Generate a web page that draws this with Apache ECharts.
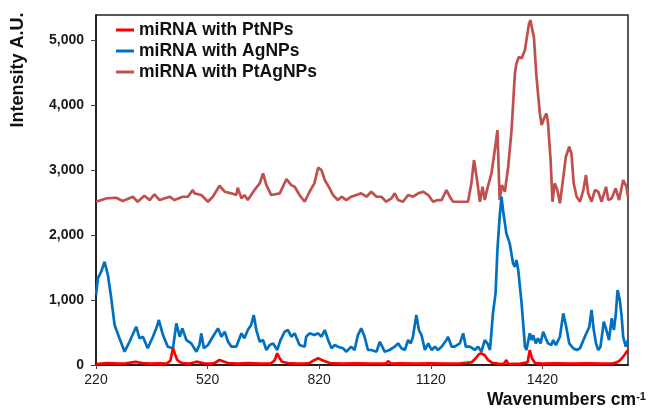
<!DOCTYPE html>
<html>
<head>
<meta charset="utf-8">
<script src="https://cdn.jsdelivr.net/npm/echarts@6/dist/echarts.min.js"></script>
<style>
  html, body { margin: 0; padding: 0; background: #fff; }
  #main { width: 655px; height: 411px; }
</style>
</head>
<body>
<div id="main"></div>
<script>
// wavenumber ticks shown on the x axis
const xTicks = [220, 520, 820, 1120, 1420];
const yTicks = [0, 1000, 2000, 3000, 4000, 5000];

// miRNA with PtNPs (red)
const ptWave = [220,250,280,300,326,345,365,390,410,415,420,427,433,438,445,452,470,490,510,530,540,552,565,575,600,630,660,690,700,707,713,720,735,760,785,794,805,817,830,848,880,920,960,1000,1005,1009,1013,1040,1080,1120,1160,1200,1229,1240,1250,1256,1265,1275,1285,1300,1316,1323,1328,1360,1380,1386,1392,1400,1420,1460,1500,1540,1580,1610,1620,1630,1640,1650];
const ptVal = [15,30,20,25,48,30,20,25,20,25,70,257,160,80,45,30,20,51,25,20,35,77,50,30,20,30,20,25,70,180,110,50,30,20,25,30,70,105,70,30,20,25,20,20,60,80,20,25,20,25,20,25,40,100,170,180,150,70,35,20,15,77,15,20,40,231,100,30,20,25,20,25,20,25,40,80,150,231];

// miRNA with AgNPs (blue)
const agWave = [220,225,234,243,252,261,270,283,297,310,328,337,346,359,373,382,389,400,413,427,436,445,452,463,476,490,498,503,510,521,534,548,557,566,575,584,597,611,619,628,637,644,651,660,669,678,687,696,707,716,727,736,745,754,767,781,785,794,807,817,826,835,844,853,862,870,884,893,906,915,924,933,942,951,960,974,983,996,1009,1023,1032,1041,1050,1059,1066,1072,1081,1088,1095,1104,1113,1122,1131,1139,1149,1162,1166,1176,1184,1198,1207,1214,1225,1238,1247,1256,1265,1272,1279,1287,1294,1299,1305,1310,1314,1323,1332,1341,1346,1350,1355,1364,1373,1377,1386,1391,1395,1402,1408,1415,1422,1429,1435,1444,1449,1456,1467,1476,1483,1492,1503,1512,1521,1534,1546,1552,1558,1564,1570,1576,1585,1592,1599,1606,1612,1617,1622,1628,1633,1637,1644,1650];
const agVal = [1077,1333,1435,1589,1384,1026,615,411,205,358,589,411,435,257,435,564,692,461,282,257,641,435,564,384,333,205,307,487,257,307,435,564,435,512,358,282,282,487,411,538,615,769,538,358,384,231,307,333,231,384,512,538,435,487,307,282,435,487,461,487,435,538,384,257,307,282,257,205,282,231,461,564,435,231,231,205,358,205,231,282,333,257,231,384,333,435,769,538,461,231,333,231,282,231,282,384,435,282,282,333,487,282,282,231,282,205,384,333,231,795,1103,1769,2281,2589,2384,2026,1872,1564,1512,1615,1461,949,282,231,487,384,461,333,411,333,512,411,333,307,384,307,435,795,615,333,257,231,257,435,589,846,538,333,231,282,666,538,384,718,538,769,1153,1000,743,435,282,384];

// miRNA with PtAgNPs (brownish red)
const ptAgWave = [220,247,274,292,319,332,350,364,377,391,418,431,453,467,480,485,503,521,534,552,566,584,597,601,611,619,628,646,660,669,678,691,714,732,745,754,767,781,794,807,817,826,835,848,857,870,880,893,906,920,933,947,960,974,987,1000,1014,1023,1032,1045,1059,1072,1086,1099,1113,1126,1139,1149,1162,1171,1180,1220,1229,1236,1243,1252,1259,1265,1272,1283,1292,1299,1305,1311,1319,1328,1337,1346,1350,1357,1364,1373,1377,1384,1388,1393,1397,1404,1413,1418,1426,1431,1435,1442,1447,1453,1460,1467,1474,1483,1492,1498,1504,1512,1521,1530,1537,1543,1552,1561,1570,1579,1591,1597,1606,1617,1626,1637,1646,1650];
const ptAgVal = [2512,2563,2573,2522,2589,2512,2604,2538,2625,2538,2589,2538,2589,2589,2692,2641,2615,2512,2589,2758,2666,2641,2615,2727,2563,2615,2538,2692,2795,2948,2768,2615,2641,2861,2768,2742,2615,2512,2666,2795,3035,3000,2845,2718,2615,2538,2589,2538,2589,2615,2641,2589,2666,2589,2589,2512,2563,2641,2538,2512,2615,2589,2641,2666,2615,2512,2538,2538,2692,2589,2512,2512,2795,3153,2896,2512,2742,2538,2718,2948,3307,3614,2538,2768,2666,3050,3614,4486,4640,4742,4717,4845,4999,5255,5306,5152,5050,4434,3871,3691,3819,3871,3717,3153,2512,2795,2692,2487,2795,3204,3358,3256,2795,2589,2512,2692,2922,2641,2512,2692,2666,2512,2742,2538,2563,2718,2538,2845,2742,2589];

const zip = (xs, ys) => xs.map((x, i) => [x, ys[i]]);

const FONT = 'Liberation Sans, Arial, sans-serif';
const chart = echarts.init(document.getElementById('main'));

const option = {
  animation: false,
  backgroundColor: '#fff',
  textStyle: { fontFamily: FONT },
  grid: {
    left: 96, right: 27, top: 15, bottom: 46,
    show: true, borderColor: '#222', borderWidth: 1.5
  },
  legend: {
    orient: 'vertical',
    left: 116, top: 21,
    padding: 0,
    itemGap: 3,
    itemWidth: 18, itemHeight: 3,
    icon: 'rect',
    data: ['miRNA with PtNPs', 'miRNA with AgNPs', 'miRNA with PtAgNPs'],
    textStyle: { fontFamily: FONT, fontSize: 17.5, fontWeight: 'bold', color: '#111', lineHeight: 18 }
  },
  xAxis: {
    type: 'value',
    min: 220, max: 1650,
    axisLine: { show: true, lineStyle: { color: '#111', width: 1.5 } },
    axisTick: { show: true, length: 4, customValues: xTicks, lineStyle: { color: '#444' } },
    axisLabel: {
      customValues: xTicks,
      formatter: v => String(v),
      fontFamily: FONT, fontSize: 14, color: '#1a1a1a', margin: 8
    },
    splitLine: { show: false }
  },
  yAxis: {
    type: 'value',
    min: 0, max: 5385,
    axisLine: { show: true, lineStyle: { color: '#111', width: 1.5 } },
    axisTick: { show: true, length: 5, customValues: yTicks, lineStyle: { color: '#444' } },
    axisLabel: {
      customValues: yTicks,
      formatter: v => v.toLocaleString('en-US'),
      fontFamily: FONT, fontSize: 14, fontWeight: 'bold', color: '#1a1a1a', margin: 12
    },
    splitLine: { show: false }
  },
  graphic: [
    {
      type: 'text',
      x: 18, y: 70,
      rotation: Math.PI / 2,
      style: {
        text: 'Intensity A.U.',
        font: 'bold 18px ' + FONT,
        fill: '#111',
        textAlign: 'center',
        textVerticalAlign: 'middle'
      }
    }
  ],
  title: {
    text: '{a|Wavenumbers cm}{b|-1}',
    left: 487, top: 391,
    padding: 0,
    textStyle: {
      rich: {
        a: { fontFamily: FONT, fontSize: 17.5, fontWeight: 'bold', color: '#111', lineHeight: 18 },
        b: { fontFamily: FONT, fontSize: 11, fontWeight: 'bold', color: '#111', lineHeight: 18, verticalAlign: 'top', padding: [0, 0, 8, 0] }
      }
    }
  },
  series: [
    {
      name: 'miRNA with PtAgNPs', type: 'line', showSymbol: false, z: 2,
      color: '#C0504D', lineStyle: { width: 2.7 },
      data: zip(ptAgWave, ptAgVal)
    },
    {
      name: 'miRNA with AgNPs', type: 'line', showSymbol: false, z: 3,
      color: '#0070C0', lineStyle: { width: 2.7 },
      data: zip(agWave, agVal)
    },
    {
      name: 'miRNA with PtNPs', type: 'line', showSymbol: false, z: 4,
      color: '#FF0000', lineStyle: { width: 2.7 },
      data: zip(ptWave, ptVal)
    }
  ]
};

chart.setOption(option);
</script>
</body>
</html>
